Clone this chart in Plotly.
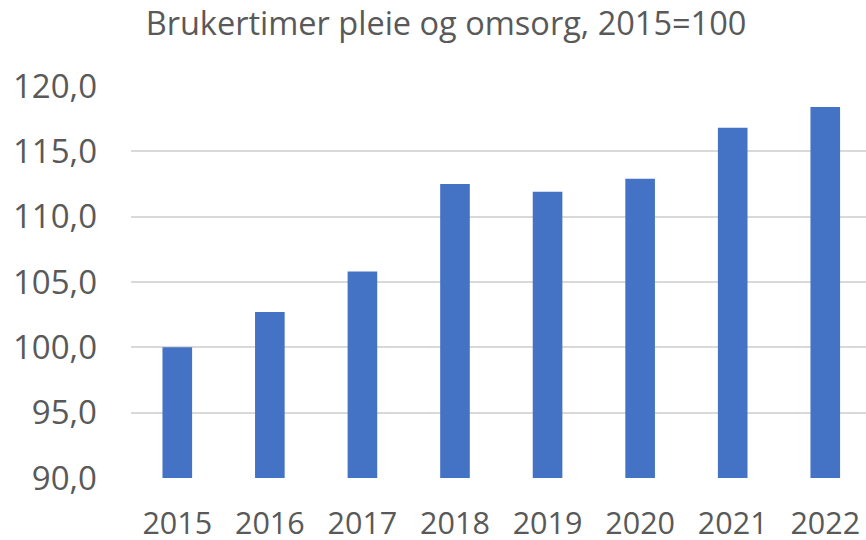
import plotly.graph_objects as go

years = ["2015", "2016", "2017", "2018", "2019", "2020", "2021", "2022"]
values = [100.0, 102.7, 105.8, 112.5, 111.9, 112.9, 116.8, 118.4]
y_ticks = [90, 95, 100, 105, 110, 115, 120]

TEXT = "#595959"
FONT = "Open Sans"

fig = go.Figure(
    go.Bar(
        x=years,
        y=values,
        marker=dict(color="#4472C4", line=dict(width=0)),
        hoverinfo="x+y",
    )
)

fig.update_layout(
    width=866,
    height=540,
    margin=dict(l=131, r=0, t=85.5, b=61.5, autoexpand=False),
    paper_bgcolor="white",
    plot_bgcolor="white",
    separators=",.",
    bargap=0.68,
    showlegend=False,
    font=dict(family=FONT, color=TEXT),
    title=dict(
        text="Brukertimer pleie og omsorg, 2015=100",
        x=446 / 866,
        xref="container",
        xanchor="center",
        y=1 - 24 / 540,
        yref="container",
        yanchor="middle",
        font=dict(family=FONT, size=32.5, color=TEXT),
    ),
)

fig.update_xaxes(
    type="category",
    range=[-0.5, 7.44],
    automargin=False,
    showgrid=False,
    showline=False,
    zeroline=False,
    ticks="",
    tickfont=dict(family=FONT, size=30.5, color=TEXT),
    ticklabelstandoff=24,
)

fig.update_yaxes(
    range=[90, 120],
    automargin=False,
    tickvals=y_ticks,
    tickformat=".1f",
    showgrid=True,
    gridcolor="#D9D9D9",
    gridwidth=1.5,
    zeroline=False,
    showline=False,
    ticks="",
    tickfont=dict(family=FONT, size=33, color=TEXT),
    ticklabelstandoff=33,
)

fig.write_html(
    "out.html",
    config={"displayModeBar": False},
    post_script="document.body.style.margin='0';document.body.style.overflow='hidden';",
)
